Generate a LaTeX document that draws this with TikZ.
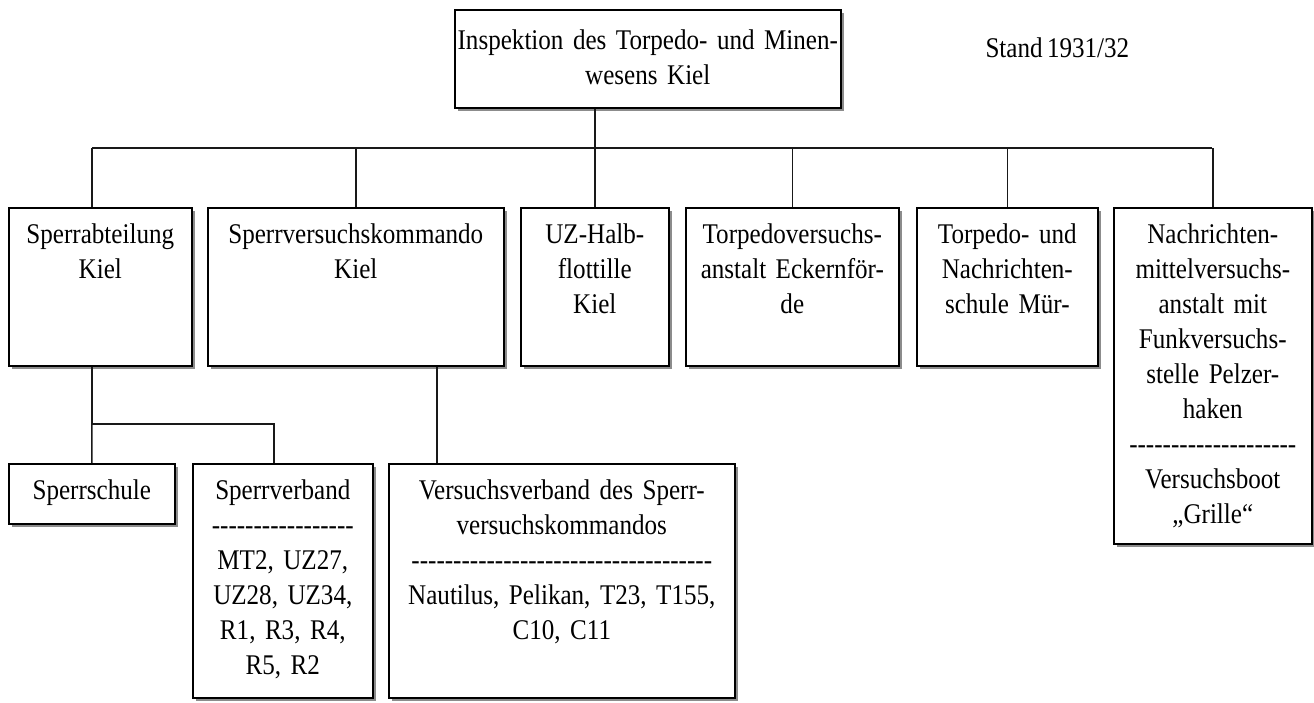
\documentclass[tikz,border=0pt]{standalone}
\usepackage{fontspec}
\setmainfont{Liberation Serif}[Ligatures=TeXOff,FakeStretch=0.88,WordSpace=0.7]
\usepackage{tikz}
\usetikzlibrary{shadows}
\tikzstyle{unit}=[draw=black,line width=1.6pt,fill=white,anchor=north west,
align=center,inner xsep=1pt,inner ysep=0pt,text height=36pt,
font=\fontsize{28.5}{35}\selectfont,
drop shadow={shadow xshift=3pt,shadow yshift=-3pt,fill=black!45,opacity=1}]
\tikzstyle{link}=[line width=1.5pt,draw=black!90]

\begin{document}
\begin{tikzpicture}[x=1pt,y=-1pt]
    \useasboundingbox (0,0) rectangle (1314,702);
    % top: the inspection
    \node (insp) [unit,text width=384pt,text height=40pt,text depth=58pt] at (454,9)
      {Inspektion des Torpedo- und Minen-\\wesens Kiel};
    \node (stand) [anchor=base west,font=\fontsize{28.5}{35}\selectfont] at (982,57) {Stand 1931/32};
    % second line: the units below the inspection
    \node (sperr)  [unit,text width=181pt,text depth=122pt] at (8,207)
      {Sperrabteilung\\Kiel};
    \node (svk)    [unit,text width=294pt,text depth=122pt] at (207,207)
      {Sperrversuchskommando\\Kiel};
    \node (uzhf)   [unit,text width=146pt,text depth=122pt] at (520,207)
      {UZ-Halb-\\flottille\\Kiel};
    \node (tva)    [unit,text width=211pt,text depth=122pt] at (685,207)
      {Torpedoversuchs-\\anstalt Eckernför-\\de};
    \node (tns)    [unit,text width=179pt,text depth=122pt] at (916,207)
      {Torpedo- und\\Nachrichten-\\schule Mür-};
    \node (nmva)   [unit,text width=196pt,text depth=300pt] at (1113,207)
      {Nachrichten-\\mittelversuchs-\\anstalt mit\\Funkversuchs-\\stelle Pelzer-\\haken\\--------------------\\Versuchsboot\\„Grille“};
    % third line: the units below
    \node (schule) [unit,text width=164pt,text depth=24pt] at (8,463)
      {Sperrschule};
    \node (sverb)  [unit,text width=178pt,text depth=198pt] at (192,463)
      {Sperrverband\\-----------------\\MT2, UZ27,\\UZ28, UZ34,\\R1, R3, R4,\\R5, R2};
    \node (vverb)  [unit,text width=344pt,text depth=198pt] at (388,463)
      {Versuchsverband des Sperr-\\versuchskommandos\\------------------------------------\\Nautilus, Pelikan, T23, T155,\\C10, C11};
    % the lines between them
    \coordinate (busL) at (92,148);
    \coordinate (busR) at (1212,148);
    \coordinate (lowL) at (92,424);
    \coordinate (lowR) at (274,424);
    \coordinate (vvx) at (437,424);
    \path[link]
    (busL) edge (busR)
    (insp.south -| uzhf.north) edge (uzhf.north)
    (busL) edge (sperr.north -| busL)
    (svk.north |- busL) edge (svk.north)
    (tva.north |- busL) edge (tva.north)
    (tns.north |- busL) edge (tns.north)
    (nmva.north |- busL) edge (nmva.north)
    (sperr.south -| lowL) edge (lowL)
    (lowL) edge (schule.north)
    (svk.south -| vvx) edge (vverb.north -| vvx);
    \draw[link] (lowL) -- (lowR) -- (sverb.north -| lowR);
  \end{tikzpicture}
\end{document}
